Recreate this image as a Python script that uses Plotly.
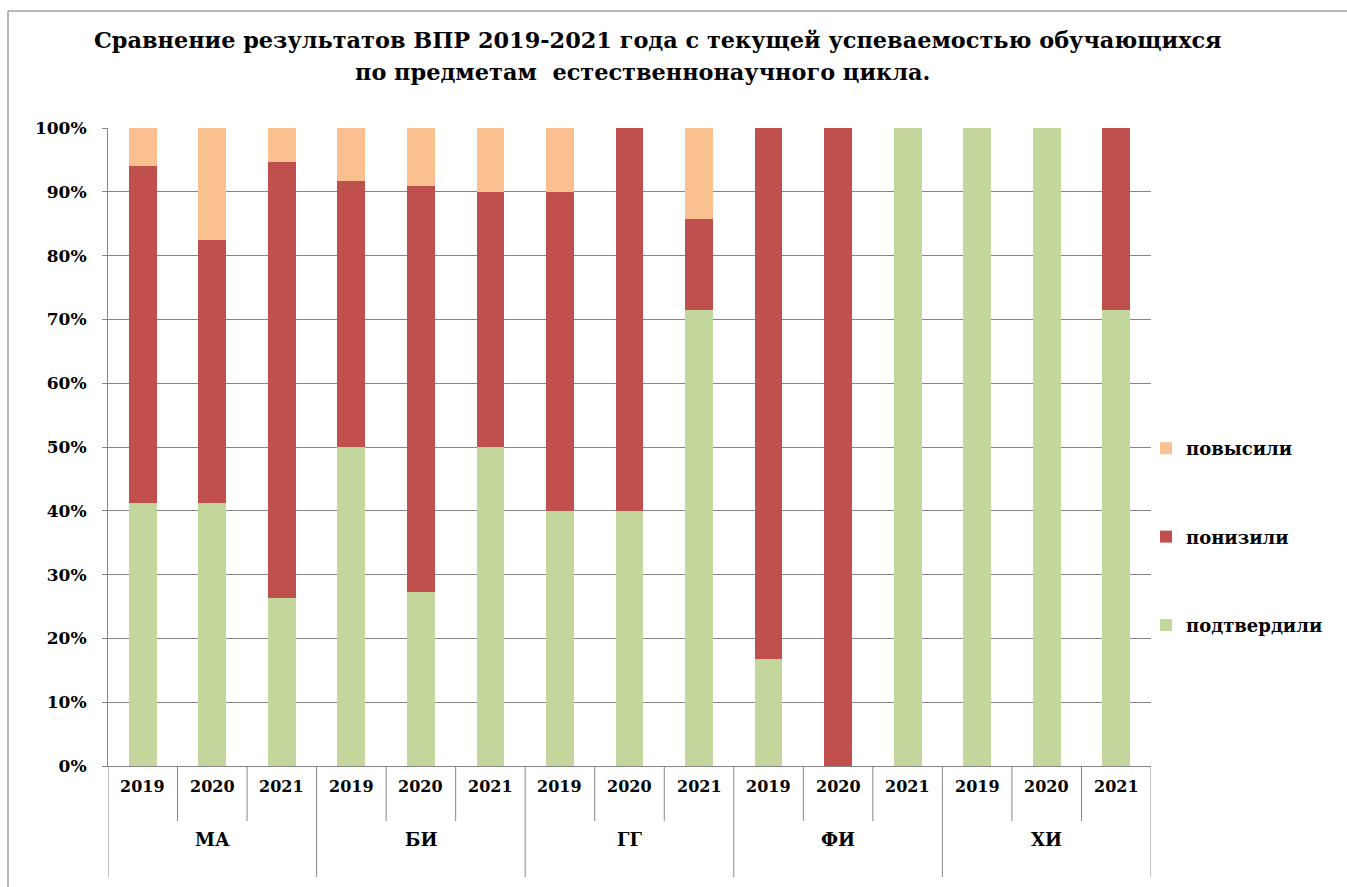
import plotly.graph_objects as go

subjects = ["МА", "БИ", "ГГ", "ФИ", "ХИ"]
years = ["2019", "2020", "2021"]
series_names = ["подтвердили", "понизили", "повысили"]

confirmed = [41.2, 41.2, 26.3, 50.0, 27.3, 50.0, 40.0, 40.0, 71.4, 16.7, 0.0, 100.0, 100.0, 100.0, 71.4]
lowered =   [52.9, 41.2, 68.4, 41.7, 63.6, 40.0, 50.0, 60.0, 14.3, 83.3, 100.0, 0.0, 0.0, 0.0, 28.6]
raised =    [5.9, 17.6, 5.3, 8.3, 9.1, 10.0, 10.0, 0.0, 14.3, 0.0, 0.0, 0.0, 0.0, 0.0, 0.0]
y_ticks = [0, 10, 20, 30, 40, 50, 60, 70, 80, 90, 100]

colors = ["#c3d69b", "#c0504d", "#fac090"]
FONT = "DejaVu Serif"

n = len(subjects) * len(years)
xpos = list(range(n))

fig = go.Figure()
for i, (name, vals) in enumerate(zip(series_names, [confirmed, lowered, raised])):
    fig.add_trace(go.Bar(
        x=xpos, y=vals, name=name, width=0.4,
        marker=dict(color=colors[i], line=dict(width=0)),
        legendgroup=name, legendrank=3 - i,
    ))

L, R, T, B = 108, 1347 - 1151, 128, 887 - 766
plot_h = 887 - T - B
plot_w = 1347 - L - R

def py(pix):
    return (766 - pix) / plot_h

def px(pix):
    return (pix - L) / plot_w

annotations = []
shapes = []
for k in range(n):
    annotations.append(dict(x=k, y=py(798), xref="x", yref="paper", text=years[k % 3],
                            showarrow=False, font=dict(family=FONT, size=16, color="#000", weight="bold")))
for k in range(1, n):
    if k % 3 != 0:
        shapes.append(dict(type="line", xref="x", yref="paper", x0=k - 0.5, x1=k - 0.5,
                           y0=0, y1=py(821), line=dict(color="#868686", width=1)))
for g in range(len(subjects) + 1):
    xx = g * 3 - 0.5
    shapes.append(dict(type="line", xref="x", yref="paper", x0=xx, x1=xx,
                       y0=0, y1=py(877), line=dict(color="#868686", width=1)))
for g, s in enumerate(subjects):
    annotations.append(dict(x=g * 3 + 1, y=py(852), xref="x", yref="paper", text=s,
                            showarrow=False, font=dict(family=FONT, size=18, color="#000", weight="bold")))

annotations.append(dict(x=px(658), y=py(40), xref="paper", yref="paper",
                        text="Сравнение результатов ВПР 2019-2021 года с текущей успеваемостью обучающихся",
                        showarrow=False, xanchor="center", yanchor="middle",
                        font=dict(family=FONT, size=22.4, color="#000", weight="bold")))
annotations.append(dict(x=px(642), y=py(72), xref="paper", yref="paper",
                        text="по предметам  естественнонаучного цикла.",
                        showarrow=False, xanchor="center", yanchor="middle",
                        font=dict(family=FONT, size=22.4, color="#000", weight="bold")))

shapes.append(dict(type="line", xref="paper", yref="paper", x0=px(8), x1=px(1347), y0=py(11), y1=py(11),
                   line=dict(color="#a0a0a0", width=1.5)))
shapes.append(dict(type="line", xref="paper", yref="paper", x0=px(8), x1=px(8), y0=py(11), y1=py(887),
                   line=dict(color="#a0a0a0", width=1.5)))

fig.update_layout(
    width=1347, height=887,
    barmode="stack",
    plot_bgcolor="white", paper_bgcolor="white",
    margin=dict(l=L, r=R, t=T, b=B, autoexpand=False),
    xaxis=dict(range=[-0.5, n - 0.5], showticklabels=False, showgrid=False, zeroline=False,
               showline=True, linecolor="#868686", linewidth=1, ticks=""),
    yaxis=dict(range=[0, 100], tickvals=y_ticks, ticktext=["%d%%" % v for v in y_ticks],
               showgrid=True, gridcolor="#868686", gridwidth=1, zeroline=False,
               showline=True, linecolor="#868686", linewidth=1, ticks="outside", ticklen=5,
               tickcolor="#868686", ticklabelstandoff=12,
               tickfont=dict(family=FONT, size=17, color="#000", weight="bold")),
    legend=dict(x=px(1146), y=py(537), xanchor="left", yanchor="middle",
                traceorder="grouped", tracegroupgap=62,
                font=dict(family=FONT, size=18, color="#000", weight="bold"), bgcolor="rgba(0,0,0,0)"),
    annotations=annotations, shapes=shapes,
    bargap=0.6,
)

fig.write_html("out.html", config={"displayModeBar": False},
               post_script="document.body.style.margin='0px';document.body.style.padding='0px';")
